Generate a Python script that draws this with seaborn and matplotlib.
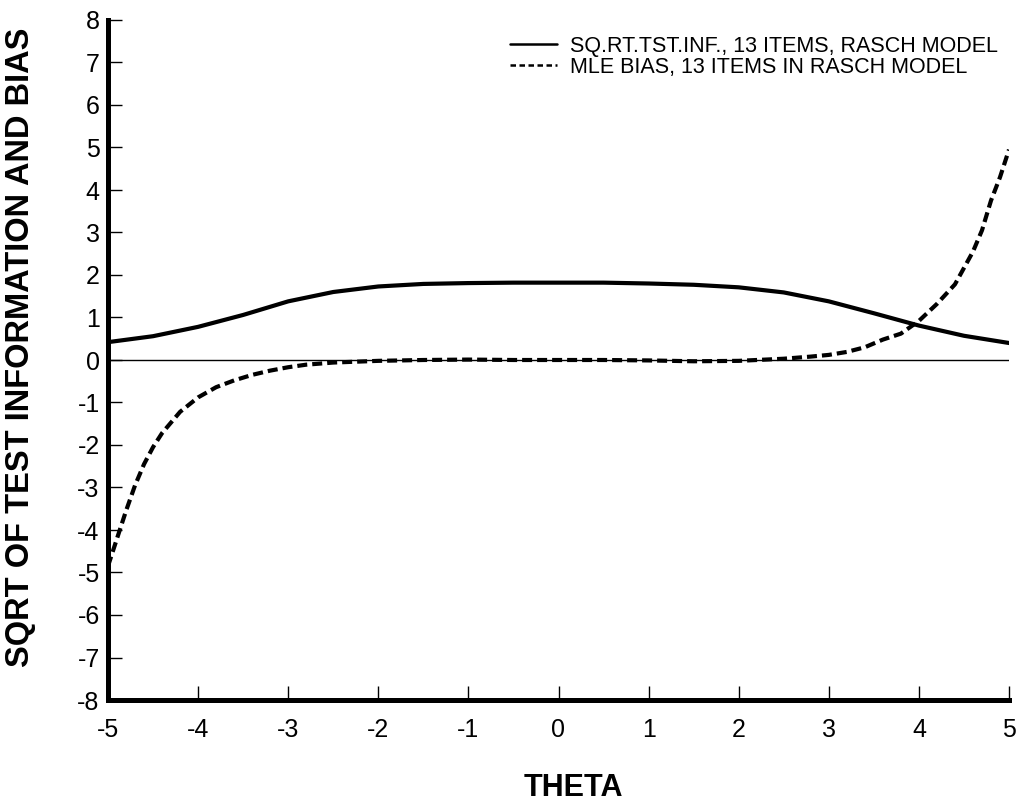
import numpy as np
import pandas as pd
import matplotlib
matplotlib.use("Agg")
import matplotlib.pyplot as plt
import seaborn as sns
from matplotlib.lines import Line2D

# ---- data ----
theta_info = [-5.0, -4.5, -4.0, -3.5, -3.0, -2.5, -2.0, -1.5, -1.0, -0.5, 0.0,
              0.5, 1.0, 1.5, 2.0, 2.5, 3.0, 3.5, 4.0, 4.5, 5.0]
sqrt_info = [0.42, 0.56, 0.78, 1.06, 1.38, 1.60, 1.73, 1.79, 1.81, 1.82, 1.82,
             1.82, 1.80, 1.77, 1.71, 1.59, 1.38, 1.10, 0.81, 0.57, 0.40]

theta_bias = [-5.0, -4.9, -4.8, -4.7, -4.6, -4.5, -4.4, -4.2, -4.0, -3.8, -3.6,
              -3.4, -3.2, -3.0, -2.8, -2.5, -2.0, -1.5, -1.0, -0.5, 0.0, 0.5,
              1.0, 1.5, 2.0, 2.5, 2.8, 3.0, 3.2, 3.4, 3.6, 3.8, 4.0, 4.2, 4.4,
              4.6, 4.7, 4.8, 4.9, 5.0]
mle_bias = [-4.85, -4.20, -3.55, -2.95, -2.45, -2.05, -1.72, -1.22, -0.88, -0.64,
            -0.48, -0.35, -0.25, -0.17, -0.11, -0.06, -0.02, 0.00, 0.01, 0.00,
            0.00, 0.00, -0.01, -0.03, -0.02, 0.03, 0.08, 0.12, 0.19, 0.30, 0.48,
            0.62, 0.92, 1.32, 1.78, 2.55, 3.05, 3.75, 4.30, 4.95]

x_ticks = [-5, -4, -3, -2, -1, 0, 1, 2, 3, 4, 5]
y_ticks = list(range(-8, 9))

label_info = "SQ.RT.TST.INF., 13 ITEMS, RASCH MODEL"
label_bias = "MLE BIAS, 13 ITEMS IN RASCH MODEL"
x_title = "THETA"
y_title = "SQRT OF TEST INFORMATION AND BIAS"

# ---- figure ----
sns.set_style("white", {"xtick.direction": "in", "ytick.direction": "in",
                        "xtick.bottom": True, "ytick.left": True,
                        "text.color": "black", "axes.labelcolor": "black",
                        "xtick.color": "black", "ytick.color": "black"})
plt.rcParams["font.family"] = ["Liberation Sans", "DejaVu Sans"]
plt.rcParams["text.color"] = "black"
plt.rcParams["axes.labelcolor"] = "black"

fig = plt.figure(figsize=(10.22, 8.05), dpi=100)
ax = fig.add_axes([108 / 1022, 1 - 700 / 805, (1009 - 108) / 1022, (700 - 20) / 805])

dash = (0, (2.4, 1.2))
sns.lineplot(x=theta_info, y=sqrt_info, ax=ax, color="black", linewidth=3.0)
sns.lineplot(x=theta_bias, y=mle_bias, ax=ax, color="black", linewidth=3.0,
             linestyle=dash)
ax.axhline(0, color="black", linewidth=1.0, zorder=1)

ax.set_xlim(-5, 5)
ax.set_ylim(-8, 8)
ax.set_xticks(x_ticks)
ax.set_yticks(y_ticks)
ax.set_xticklabels([str(v) for v in x_ticks])
ax.set_yticklabels([str(v) for v in y_ticks])
ax.tick_params(axis="both", direction="in", length=10, width=1.0,
               labelsize=18, colors="black", left=True, bottom=True)
ax.tick_params(axis="x", pad=13)
ax.tick_params(axis="y", pad=6)

for s in ["top", "right"]:
    ax.spines[s].set_visible(False)
for s in ["left", "bottom"]:
    ax.spines[s].set_linewidth(3.6)
    ax.spines[s].set_color("black")
    ax.spines[s].set_capstyle("projecting")

ax.set_xlabel(x_title, fontsize=22, fontweight="bold", color="black")
ax.set_ylabel(y_title, fontsize=23.5, fontweight="bold", color="black")
ax.yaxis.set_label_coords(-0.080, 0.519)
ax.xaxis.set_label_coords(0.516, -0.108)

handles = [Line2D([], [], color="black", linewidth=1.8),
           Line2D([], [], color="black", linewidth=1.8, linestyle=(0, (2.2, 1.4)))]
leg = ax.legend(handles, [label_info, label_bias], loc="upper right",
                bbox_to_anchor=(998 / 1022, 1 - 36 / 805),
                bbox_transform=fig.transFigure, frameon=False, fontsize=15.5,
                handlelength=2.2, handletextpad=0.6, labelspacing=0.0,
                borderpad=0, borderaxespad=0, labelcolor="black")

fig.savefig("out.png", dpi=100, facecolor="white")
